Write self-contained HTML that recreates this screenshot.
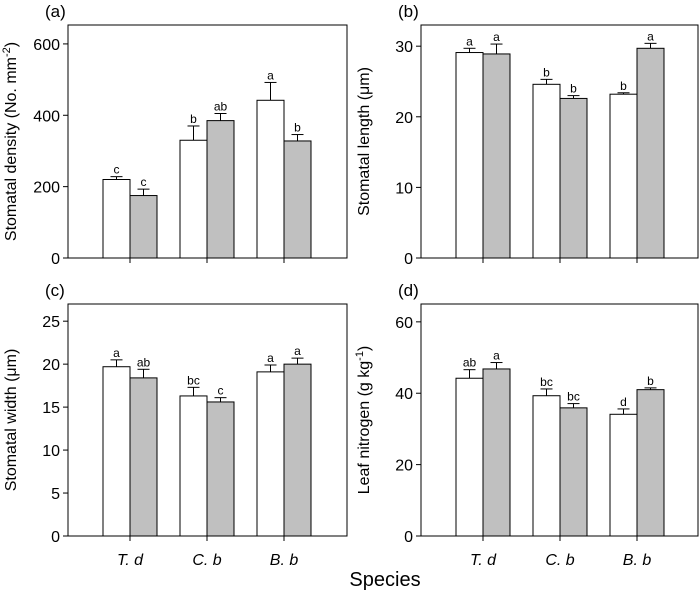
<!DOCTYPE html>
<html><head><meta charset="utf-8"><style>
body{margin:0;background:#fff;font-family:"Liberation Sans",Arial,sans-serif}
svg text{font-family:"Liberation Sans",Arial,sans-serif}
</style></head><body>
<svg id="chart" width="700" height="591" viewBox="0 0 700 591" xmlns="http://www.w3.org/2000/svg">
<text x="385" y="586" font-size="20" text-anchor="middle">Species</text>
</svg>
<script>
const categories = ["T. d", "C. b", "B. b"];
const aWhite = [220, 330, 442], aGray = [175, 385, 328];
const aWhiteErr = [8, 40, 50], aGrayErr = [18, 20, 18];
const aWhiteLbl = ["c","b","a"], aGrayLbl = ["c","ab","b"];
const aTicks = [0, 200, 400, 600];
const bWhite = [29.1, 24.6, 23.2], bGray = [28.9, 22.6, 29.7];
const bWhiteErr = [0.6, 0.7, 0.2], bGrayErr = [1.4, 0.4, 0.7];
const bWhiteLbl = ["a","b","b"], bGrayLbl = ["a","b","a"];
const bTicks = [0, 10, 20, 30];
const cWhite = [19.7, 16.3, 19.1], cGray = [18.4, 15.6, 20.0];
const cWhiteErr = [0.8, 1.0, 0.8], cGrayErr = [1.0, 0.5, 0.7];
const cWhiteLbl = ["a","bc","a"], cGrayLbl = ["ab","c","a"];
const cTicks = [0, 5, 10, 15, 20, 25];
const dWhite = [44.2, 39.3, 34.1], dGray = [46.8, 35.9, 41.0];
const dWhiteErr = [2.4, 1.9, 1.5], dGrayErr = [1.8, 1.2, 0.5];
const dWhiteLbl = ["ab","bc","d"], dGrayLbl = ["a","bc","b"];
const dTicks = [0, 20, 40, 60];

const svg = document.getElementById('chart');
const NS = 'http://www.w3.org/2000/svg';
function mk(tag, attrs, parent){const e=document.createElementNS(NS,tag);for(const k in attrs)e.setAttribute(k,attrs[k]);(parent||svg).appendChild(e);return e;}

function panel(p){
  const g = mk('g',{});
  
  
  const L=p.x, R=p.x+p.w, T=p.top, B=p.bottom;
  const y = v => B - v/p.max*(B-T);
  const lt = mk('text',{x:L-23,y:T-8,'font-size':17},g); lt.textContent='('+p.id+')';
  
  
  p.ticks.forEach(t=>{
    mk('line',{x1:L-5,x2:L,y1:y(t),y2:y(t),stroke:'#000','stroke-width':1},g);
    const tx = mk('text',{x:L-8,y:y(t)+6,'font-size':16,'text-anchor':'end'},g);
    tx.textContent=t;
    
    
  });
  const gs = 77, c0 = L+62, bw = 27;
  categories.forEach((cat,i)=>{
    const cx = c0 + i*gs;
    [[p.white,p.we,p.wl,'#fff',cx-bw],[p.gray,p.ge,p.gl,'#c0c0c0',cx]].forEach((s,k)=>{
      const v=s[0][i], top=y(v), et=y(v+s[1][i]), bx=s[4];
      const r = mk('rect',{x:bx,y:top,width:bw,height:B-top,fill:s[3],stroke:'#000','stroke-width':1},g);
      
      
      mk('line',{x1:bx+bw/2,x2:bx+bw/2,y1:top,y2:et,stroke:'#000'},g);
      mk('line',{x1:bx+bw/2-6,x2:bx+bw/2+6,y1:et,y2:et,stroke:'#000'},g);
      const lb = mk('text',{x:bx+bw/2,y:et-3,'font-size':12,'text-anchor':'middle'},g);
      lb.textContent=s[2][i];
      
      
    });
    mk('line',{x1:cx,x2:cx,y1:B,y2:B+5,stroke:'#000'},g);
    if(p.xlabels){
      const ct = mk('text',{x:cx,y:B+29,'font-size':16,'font-style':'italic','text-anchor':'middle'},g);
      ct.textContent=cat;
      
      
    }
  });
  mk('rect',{x:L,y:T,width:R-L,height:B-T,fill:'none',stroke:'#000','stroke-width':1},g);
  const yt = mk('text',{x:0,y:0,'font-size':16,'text-anchor':'middle',transform:`translate(${L-52},${(T+B)/2}) rotate(-90)`},g);
  yt.innerHTML=p.title;
  
  
}
panel({id:'a',x:68,w:279,top:25,bottom:258,max:653,ticks:aTicks,white:aWhite,gray:aGray,we:aWhiteErr,ge:aGrayErr,wl:aWhiteLbl,gl:aGrayLbl,title:'Stomatal density (No. mm<tspan dy="-6" font-size="11">-2</tspan><tspan dy="6">)</tspan>'});
panel({id:'b',x:421,w:277,top:25,bottom:258,max:33,ticks:bTicks,white:bWhite,gray:bGray,we:bWhiteErr,ge:bGrayErr,wl:bWhiteLbl,gl:bGrayLbl,title:'Stomatal length (μm)'});
panel({id:'c',x:68,w:279,top:304,bottom:536,max:27,ticks:cTicks,white:cWhite,gray:cGray,we:cWhiteErr,ge:cGrayErr,wl:cWhiteLbl,gl:cGrayLbl,xlabels:true,title:'Stomatal width (μm)'});
panel({id:'d',x:421,w:277,top:304,bottom:536,max:65,ticks:dTicks,white:dWhite,gray:dGray,we:dWhiteErr,ge:dGrayErr,wl:dWhiteLbl,gl:dGrayLbl,xlabels:true,title:'Leaf nitrogen (g kg<tspan dy="-6" font-size="11">-1</tspan><tspan dy="6">)</tspan>'});
</script>
</body></html>
